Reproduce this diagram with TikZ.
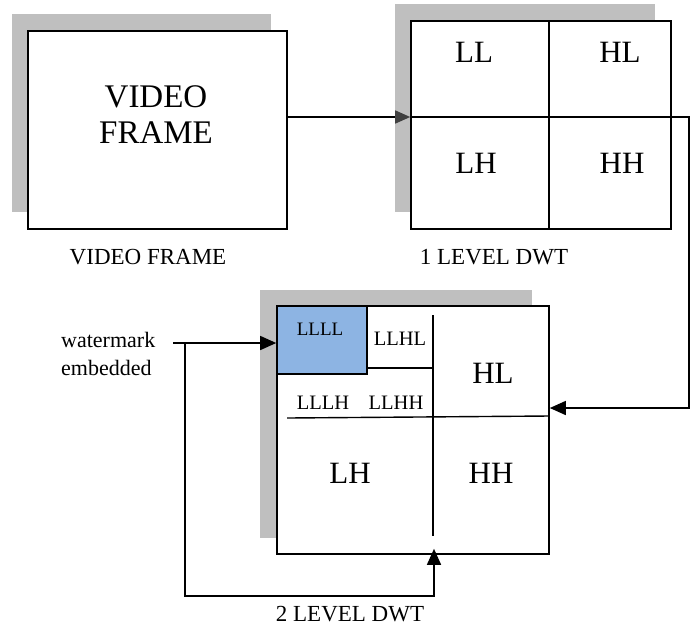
\documentclass[tikz,border=0pt]{standalone}
\usepackage{fontspec}
\setmainfont{Liberation Serif}
\usepackage{tikz}
\usetikzlibrary{
  arrows.meta,
  shadows,
  calc
}
\usepackage{xcolor}
\definecolor{cellblue}{RGB}{141,180,227}
\newcommand{\fs}[1]{\fontsize{#1}{#1}\selectfont}
\tikzset{
  frame box/.style={
    draw, rectangle, line width=1.6pt,
    fill=white, inner sep=0pt
  },
  left shadow/.style={
    general shadow={fill=gray!50, shadow xshift=-16pt, shadow yshift=17pt}
  },
  band line/.style={
    line width=1.4pt, draw=black
  },
  flow arrow/.style={
    -{Triangle[length=16pt,width=14pt]}, line width=1.5pt, draw=black
  },
  band label/.style={
    font=\fs{31}, inner sep=0pt
  },
  sub label/.style={
    font=\fs{20.5}, inner sep=0pt
  },
  caption/.style={
    font=\fs{23}, inner sep=0pt
  },
}

\begin{document}
\begin{tikzpicture}[x=1pt, y=-1pt]

  \useasboundingbox (0,0) rectangle (692,625);

  % Video frame
  \node[frame box, left shadow, minimum width=259pt, minimum height=198pt]
    (frame) at (157.5,130) {};
  \node[font=\fontsize{33}{36}\selectfont, align=center, inner sep=0pt]
    (frametext) at (156,115) {VIDEO\\FRAME};
  \node[caption] (framecap) at (148,257) {VIDEO FRAME};

  % 1 level DWT
  \node[frame box, left shadow, minimum width=260pt, minimum height=208pt]
    (dwt1) at (541,125) {};
  \draw[band line] (549,21) -- (549,229);
  \draw[band line] (411,117) -- (671,117);
  \node[band label] (ll) at (474,52) {LL};
  \node[band label] (hl) at (620,52) {HL};
  \node[band label] (lh) at (476,163) {LH};
  \node[band label] (hh) at (622,163) {HH};
  \node[caption] (dwt1cap) at (494,257) {1 LEVEL DWT};

  % 2 level DWT
  \node[frame box, general shadow={fill=gray!50, shadow xshift=-17pt, shadow yshift=16pt},
        minimum width=272pt, minimum height=248pt]
    (dwt2) at (413,430) {};
  \node[frame box, fill=cellblue, minimum width=90pt, minimum height=68pt]
    (llll) at (322,340) {};
  \node[sub label, font=\fs{19}] (lllltext) at (320,329) {LLLL};
  \draw[band line] (llll.south east |- 0,368) -- (433,368);
  \draw[band line] (433,315) -- (433,536);
  \draw[band line] (287,418) -- (549,416);
  \node[sub label] (llhl) at (400,339) {LLHL};
  \node[sub label] (lllh) at (323,403) {LLLH};
  \node[sub label] (llhh) at (396,403) {LLHH};
  \node[band label] (hl2) at (493,373) {HL};
  \node[band label] (lh2) at (350,473) {LH};
  \node[band label] (hh2) at (491,473) {HH};
  \node[caption] (dwt2cap) at (350,614) {2 LEVEL DWT};

  % Watermark input
  \node[font=\fontsize{22}{28}\selectfont, align=left, inner sep=0pt, anchor=west]
    (wm) at (61,354) {watermark\\embedded};
  \coordinate (wmout) at (173,343);
  \coordinate (tap) at (185,343);

  % Connectors
  \draw[line width=1.5pt, -{Triangle[length=15pt,width=13pt,color=black!75]}]
    ([yshift=13pt]frame.east) -- ([yshift=8pt]dwt1.west);
  \draw[flow arrow] ([yshift=8pt]dwt1.east) -- ++(17,0)
    |- ([yshift=22pt]dwt2.east);
  \draw[flow arrow] (wmout) -- ([yshift=87pt]dwt2.west);
  \draw[flow arrow] (tap) -- ++(0,253)
    -| ([xshift=21pt,yshift=6pt]dwt2.south);

\end{tikzpicture}
\end{document}
